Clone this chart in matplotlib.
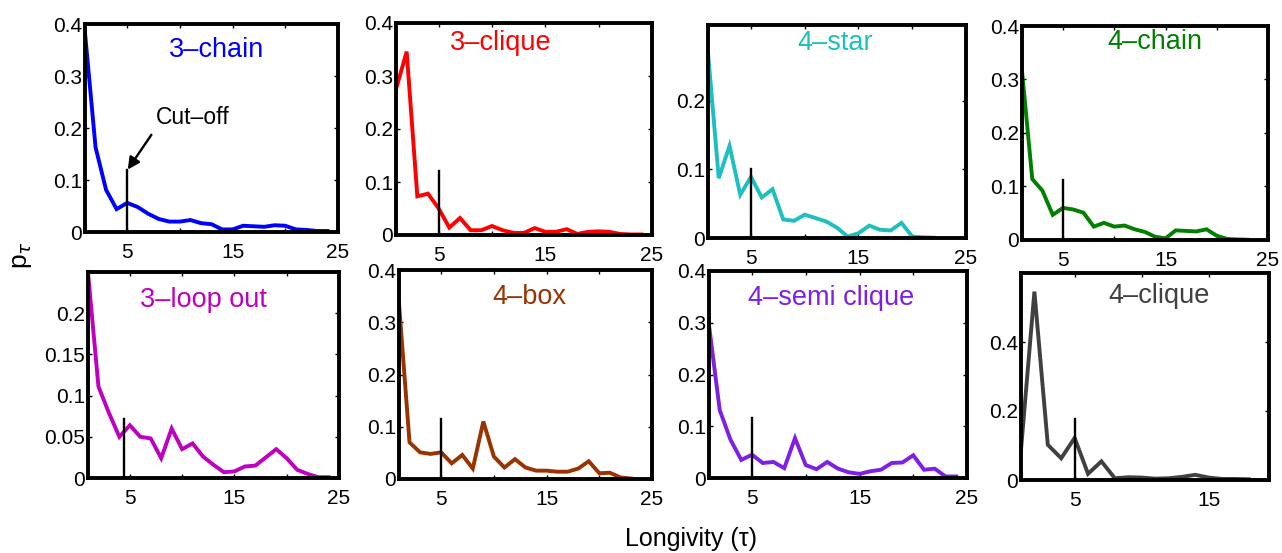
import numpy as np
import matplotlib
matplotlib.use("Agg")
import matplotlib.pyplot as plt
from matplotlib.ticker import FuncFormatter

plt.rcParams['font.family'] = ['Liberation Sans', 'DejaVu Sans']

# longevity distributions per motif, tau = 1, 2, ...
chain3 = [0.383, 0.163, 0.081, 0.044, 0.056, 0.048, 0.035, 0.025, 0.020, 0.020, 0.023, 0.017,
          0.015, 0.005, 0.005, 0.012, 0.011, 0.010, 0.013, 0.012, 0.005, 0.004, 0.002, 0.002]
clique3 = [0.275, 0.346, 0.073, 0.078, 0.050, 0.014, 0.032, 0.009, 0.009, 0.017, 0.009, 0.004,
           0.004, 0.013, 0.006, 0.006, 0.011, 0.002, 0.006, 0.007, 0.006, 0.002, 0.001, 0.001]
star4 = [0.270, 0.087, 0.134, 0.063, 0.089, 0.059, 0.071, 0.027, 0.025, 0.034, 0.029, 0.024,
         0.015, 0.002, 0.007, 0.018, 0.012, 0.011, 0.022, 0.002, 0.001, 0.0005]
chain4 = [0.316, 0.114, 0.092, 0.047, 0.060, 0.057, 0.051, 0.025, 0.032, 0.025, 0.027, 0.020,
          0.015, 0.006, 0.003, 0.018, 0.017, 0.016, 0.020, 0.008, 0.002, 0.001, 0.0005]
loop3 = [0.249, 0.111, 0.079, 0.050, 0.064, 0.050, 0.048, 0.024, 0.060, 0.035, 0.042, 0.026,
         0.016, 0.007, 0.008, 0.014, 0.015, 0.025, 0.035, 0.024, 0.010, 0.005, 0.001, 0.001]
box4 = [0.336, 0.070, 0.051, 0.048, 0.051, 0.030, 0.046, 0.020, 0.110, 0.043, 0.022, 0.038,
        0.022, 0.016, 0.016, 0.014, 0.014, 0.020, 0.034, 0.011, 0.012, 0.003, 0.001]
semi4 = [0.295, 0.131, 0.074, 0.035, 0.045, 0.029, 0.031, 0.019, 0.077, 0.025, 0.017, 0.031,
         0.018, 0.011, 0.008, 0.013, 0.016, 0.029, 0.030, 0.044, 0.016, 0.018, 0.003, 0.003]
clique4 = [0.088, 0.546, 0.102, 0.063, 0.122, 0.018, 0.054, 0.005, 0.008, 0.007, 0.004, 0.005,
           0.009, 0.015, 0.007, 0.003, 0.003, 0.002]

names = ["3\u2013chain", "3\u2013clique", "4\u2013star", "4\u2013chain",
         "3\u2013loop out", "4\u2013box", "4\u2013semi clique", "4\u2013clique"]
series = [chain3, clique3, star4, chain4, loop3, box4, semi4, clique4]
colors = ["#0000FF", "#FF0000", "#1FBFBF", "#007F00",
          "#BF00BF", "#993300", "#7F1FE5", "#404040"]

# cut-off marker: position and height
cut_x = [5, 5, 5, 5, 4.4, 5, 5, 5]
cut_h = [0.12, 0.12, 0.10, 0.112, 0.072, 0.115, 0.116, 0.176]

ymax = [0.4, 0.4, 0.31, 0.4, 0.25, 0.4, 0.4, 0.6]
yticks = [[0, 0.1, 0.2, 0.3, 0.4], [0, 0.1, 0.2, 0.3, 0.4], [0, 0.1, 0.2],
          [0, 0.1, 0.2, 0.3, 0.4], [0, 0.05, 0.1, 0.15, 0.2], [0, 0.1, 0.2, 0.3, 0.4],
          [0, 0.1, 0.2, 0.3, 0.4], [0, 0.2, 0.4]]
xmax = [25, 25, 25, 25, 25, 25, 25, 19.5]

# title positions in data coords
title_xy = [(13.5, 0.35), (10.8, 0.363), (12.8, 0.284), (14.0, 0.371),
            (12.0, 0.216), (13.4, 0.349), (12.4, 0.348), (11.3, 0.532)]

# axes boxes in pixels: left, right, top, bottom
W, H = 1282, 553
boxes = [(85, 338, 24, 232), (396, 652, 23, 235), (708, 966, 25, 238), (1022, 1268, 26, 240),
         (88, 339, 272, 478), (399, 652, 270, 479), (709, 967, 271, 478), (1021, 1269, 273, 480)]

fig = plt.figure(figsize=(W / 100, H / 100), dpi=100)

for i in range(8):
    l, r, t, b = boxes[i]
    ax = fig.add_axes([l / W, 1 - b / H, (r - l) / W, (b - t) / H])
    y = series[i]
    x = np.arange(1, len(y) + 1)
    ax.plot(x, y, color=colors[i], lw=2.8, solid_joinstyle="miter")
    ax.plot([cut_x[i], cut_x[i]], [0, cut_h[i]], color="black", lw=1.7)
    ax.set_xlim(1, xmax[i])
    ax.set_ylim(0, ymax[i])
    if xmax[i] > 20:
        ax.set_xticks([5, 10, 15, 20, 25])
        ax.set_xticklabels(["5", "", "15", "", "25"])
    else:
        ax.set_xticks([5, 10, 15])
        ax.set_xticklabels(["5", "", "15"])
    ax.set_yticks(yticks[i])
    ax.yaxis.set_major_formatter(FuncFormatter(lambda v, p: "%g" % v))
    ax.tick_params(direction="in", length=3, width=1, labelsize=15,
                   top=True, right=True)
    ax.tick_params(axis="x", pad=8)
    ax.tick_params(axis="y", pad=2)
    for s in ax.spines.values():
        s.set_linewidth(2.8)
    tx, ty = title_xy[i]
    ax.text(tx, ty, names[i], color=colors[i], fontsize=19.5, ha="center", va="center")
    if i == 0:
        ax.annotate("Cut\u2013off", xy=(5.05, 0.12), xytext=(7.7, 0.221),
                    fontsize=16.5, ha="left", va="center",
                    arrowprops=dict(arrowstyle="-|>", color="black", lw=1.7,
                                    mutation_scale=18, shrinkA=3, shrinkB=0,
                                    relpos=(0.0, 0.0)))

fig.text(22 / W, 1 - 255 / H, "p$_\\tau$", fontsize=19, rotation=90, ha="center", va="center")
fig.text(691 / W, 1 - 539 / H, "Longivity (\u03c4)", fontsize=18, ha="center", va="center")

fig.savefig("out.png", dpi=100)
